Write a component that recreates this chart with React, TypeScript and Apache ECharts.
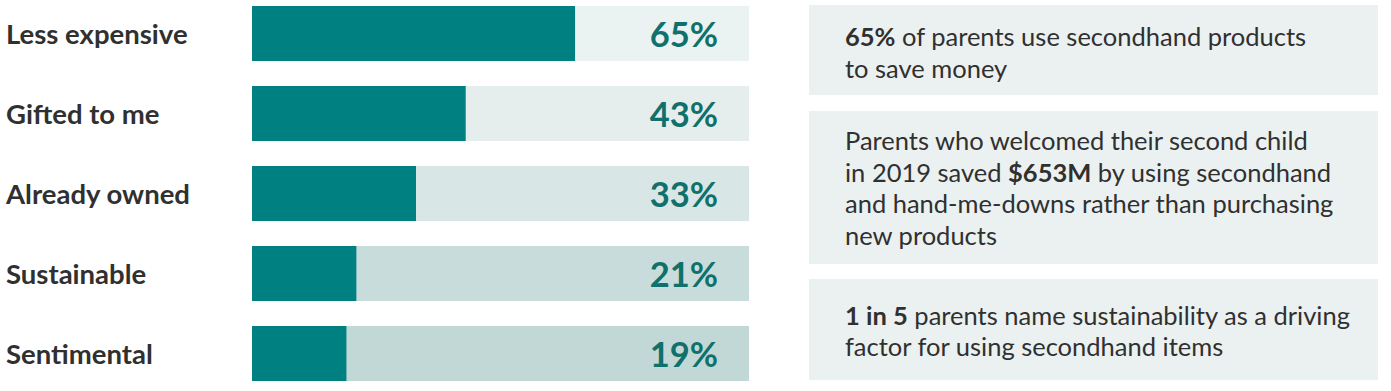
import React, { useEffect, useRef } from "react";
import * as echarts from "echarts";

const categories = ["Less expensive", "Gifted to me", "Already owned", "Sustainable", "Sentimental"];
const values = [65, 43, 33, 21, 19];
const trackValues = [100, 100, 100, 100, 100];
const trackColors = ["#EBF2F2", "#E5EEED", "#D9E6E6", "#C8DDDB", "#C1D8D6"];

const notes = [
  "{b|65%} of parents use secondhand products\nto save money",
  "Parents who welcomed their second child\nin 2019 saved {b|$653M} by using secondhand\nand hand-me-downs rather than purchasing\nnew products",
  "{b|1 in 5} parents name sustainability as a driving\nfactor for using secondhand items",
];
const noteBoxes = [
  { top: 5, height: 90, dy: 2 },
  { top: 111, height: 153, dy: 0 },
  { top: 279, height: 101, dy: 1 },
];

export default function App() {
  const ref = useRef<HTMLDivElement>(null);
  useEffect(() => {
    const chart = echarts.init(ref.current!, undefined, { renderer: "svg" });
    const font = "Lato, 'Open Sans', sans-serif";
    const LH = 31.5;
    const FS = 25.5;
    const graphics: any[] = [];
    noteBoxes.forEach((b, i) => {
      graphics.push({
        type: "rect",
        left: 809,
        top: b.top,
        shape: { width: 569, height: b.height },
        style: { fill: "#EBF1F1" },
        silent: true,
      });
      const lines = notes[i].split("\n").length;
      graphics.push({
        type: "text",
        left: 845,
        top: b.top + (b.height - lines * LH) / 2 + b.dy,
        style: {
          text: notes[i],
          fill: "#303030",
          fontFamily: font,
          fontSize: FS,
          lineHeight: LH,
          rich: {
            b: { fontWeight: "bold", fontSize: FS, fontFamily: font, fill: "#303030", lineHeight: LH },
          },
        },
      });
    });
    chart.setOption({
      animation: false,
      grid: { left: 252, right: 642, top: 33.5, height: 320 },
      xAxis: { type: "value", min: 0, max: 100, show: false },
      yAxis: {
        type: "category",
        data: categories,
        inverse: true,
        boundaryGap: false,
        axisLine: { show: false },
        axisTick: { show: false },
        splitLine: { show: false },
        axisLabel: {
          align: "left",
          margin: 246,
          color: "#303030",
          fontFamily: font,
          fontWeight: "bold",
          fontSize: 27.5,
        },
      },
      series: [
        {
          type: "bar",
          data: trackValues.map((v, i) => ({ value: v, itemStyle: { color: trackColors[i] } })),
          barWidth: 55,
          barGap: "-100%",
          silent: true,
          label: {
            show: true,
            position: "insideRight",
            distance: 31,
            formatter: (p: any) => values[p.dataIndex] + "%",
            color: "#10706C",
            fontFamily: font,
            fontWeight: "bold",
            fontSize: 34.5,
          },
          z: 1,
        },
        {
          type: "bar",
          data: values,
          barWidth: 55,
          itemStyle: { color: "#008080" },
          silent: true,
          z: 2,
        },
      ],
      graphic: graphics,
    });
    return () => chart.dispose();
  }, []);
  return <div ref={ref} style={{ width: 1391, height: 391, position: "absolute", left: 0, top: 0 }} />;
}
